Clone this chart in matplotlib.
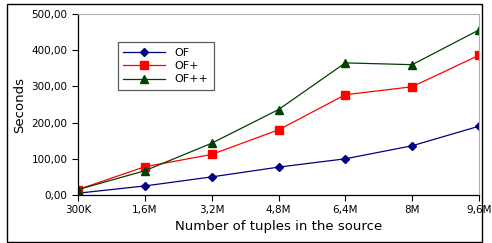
import numpy as np
import matplotlib
matplotlib.use("Agg")
import matplotlib.pyplot as plt
from matplotlib.patches import Rectangle

# ── data ──────────────────────────────────────────────────────────────────────
sizes = ["300K", "1,6M", "3,2M", "4,8M", "6,4M", "8M", "9,6M"]
of_vals = [5, 25, 50, 77, 100, 136, 190]
ofp_vals = [15, 78, 112, 180, 277, 299, 386]
ofpp_vals = [15, 67, 143, 236, 365, 360, 456]
yticks = [0, 100, 200, 300, 400, 500]

fig = plt.figure(figsize=(4.92, 2.43), dpi=100)
ax = fig.add_axes([78 / 492, 1 - 195 / 243, 401 / 492, 181 / 243])

x = np.arange(len(sizes))
ax.plot(x, of_vals, color="#000080", marker="D", ms=4, lw=0.9, label="OF")
ax.plot(x, ofp_vals, color="#ff0000", marker="s", ms=6, lw=0.9, label="OF+")
ax.plot(x, ofpp_vals, color="#004000", marker="^", ms=6, lw=0.9, label="OF++")

ax.set_xlim(0, len(sizes) - 1)
ax.set_ylim(0, 500)
ax.set_xticks(x)
ax.set_xticklabels(sizes, fontsize=7.5)
ax.set_yticks(yticks)
ax.set_yticklabels([f"{v},00" for v in yticks], fontsize=7.5)
ax.tick_params(direction="out", length=4, width=0.8, color="black")
ax.set_xlabel("Number of tuples in the source", fontsize=9.5, labelpad=3)
ax.set_ylabel("Seconds", fontsize=9.5, labelpad=4)

for s in ("top", "right"):
    ax.spines[s].set_color("#b0b0b0")
for s in ("left", "bottom"):
    ax.spines[s].set_color("black")
    ax.spines[s].set_linewidth(0.9)

leg = ax.legend(loc="upper left", bbox_to_anchor=(0.085, 0.875), fontsize=8,
                frameon=True, fancybox=False, edgecolor="#333333",
                handlelength=3.8, borderpad=0.5, labelspacing=0.3)
leg.get_frame().set_linewidth(0.9)

# outer border around the figure
fig.patches.append(Rectangle((7 / 492, 1 / 243), 475 / 492, 238 / 243,
                             transform=fig.transFigure, fill=False,
                             edgecolor="black", lw=1.0))

fig.savefig("out.png", dpi=100)
